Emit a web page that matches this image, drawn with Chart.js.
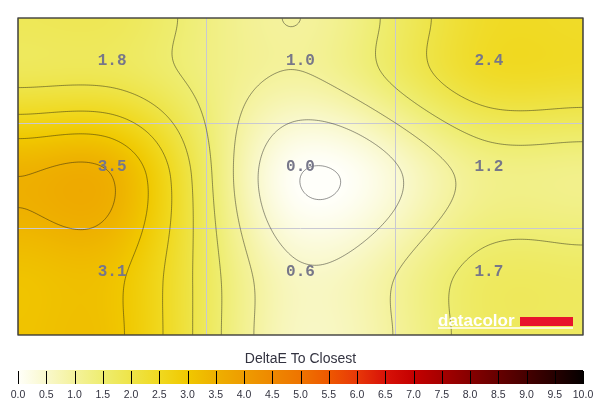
<!DOCTYPE html>
<html><head><meta charset="utf-8">
<script src="https://cdn.jsdelivr.net/npm/chart.js@4/dist/chart.umd.min.js"></script>
<style>html,body{margin:0;padding:0;background:#fff}#wrap{width:600px;height:410px}</style>
</head><body><div id="wrap"><canvas id="c" width="600" height="410"></canvas></div>
<script>
// ---- data ----
const columns = ['Left', 'Center', 'Right'];
const rows = ['Top', 'Middle', 'Bottom'];
const rowTop = [1.8, 1.0, 2.4];
const rowMiddle = [3.5, 0.0, 1.2];
const rowBottom = [3.1, 0.6, 1.7];
const legendTicks = [0.0,0.5,1.0,1.5,2.0,2.5,3.0,3.5,4.0,4.5,5.0,5.5,6.0,6.5,7.0,7.5,8.0,8.5,9.0,9.5,10.0];
const contourLevels = [0.0,0.5,1.0,1.5,2.0,2.5,3.0,3.5,4.0,4.5,5.0,5.5,6.0,6.5,7.0,7.5,8.0,8.5,9.0,9.5,10.0];
const legendTitle = 'DeltaE To Closest';
const brand = 'datacolor';

// ---- colour ramp (style) ----
const rampColors = ['#fffffa','#f9f8cc','#f4f29c','#eeed70','#eee448','#f0d920','#f0c800','#eeb000','#ee9c00','#ee8800','#ee7400','#ee5800','#e83808','#d81208','#c40000','#a60000','#860000','#660000','#460000','#260000','#050000'];
const tension = 0.75;
function hexRgb(h){return [parseInt(h.slice(1,3),16),parseInt(h.slice(3,5),16),parseInt(h.slice(5,7),16)];}
const rampRgb = rampColors.map(hexRgb);
function colorAt(v){
  const t = Math.max(0, Math.min(10, v)) / 0.5;
  const i = Math.min(rampRgb.length - 2, Math.floor(t));
  const f = t - i;
  const a = rampRgb[i], b = rampRgb[i+1];
  return [a[0]+(b[0]-a[0])*f, a[1]+(b[1]-a[1])*f, a[2]+(b[2]-a[2])*f];
}
function hermite(t, p, u){
  const n = t.length;
  let i = 0; while (i < n-2 && u > t[i+1]) i++;
  const m = k => (k === 0 || k === n-1) ? 0 : tension*(p[k+1]-p[k-1])/(t[k+1]-t[k-1]);
  const h = t[i+1]-t[i];
  const s = Math.min(1, Math.max(0, (u - t[i]) / h));
  const s2 = s*s, s3 = s2*s;
  return (2*s3-3*s2+1)*p[i] + (s3-2*s2+s)*h*m(i) + (-2*s3+3*s2)*p[i+1] + (s3-s2)*h*m(i+1);
}

const grid = [rowTop, rowMiddle, rowBottom];
const points = [];
grid.forEach((row, r) => row.forEach((v, c) => points.push({x: c + 0.5, y: r + 0.5, v})));

const heatPlugin = {
  id: 'heat',
  afterDraw(chart){
    const ctx = chart.ctx, a = chart.chartArea;
    const xs = chart.scales.x, ys = chart.scales.y, cb = chart.scales.cb;
    const nC = columns.length, nR = rows.length;
    const kx = [a.left]; for (let c = 0; c < nC; c++) kx.push(xs.getPixelForValue(c + 0.5)); kx.push(a.right);
    const ky = [a.top]; for (let r = 0; r < nR; r++) ky.push(ys.getPixelForValue(r + 0.5)); ky.push(a.bottom);
    const padRow = r => [grid[r][0], ...grid[r], grid[r][nC-1]];
    const pr = [padRow(0)]; for (let r = 0; r < nR; r++) pr.push(padRow(r)); pr.push(padRow(nR-1));
    const L = Math.round(a.left), T = Math.round(a.top);
    const W = Math.round(a.right) - L, H = Math.round(a.bottom) - T;
    const field = new Float32Array(W*H);
    for (let i = 0; i < W; i++){
      const px = L + i + 0.5;
      const colVals = pr.map(row => hermite(kx, row, px));
      for (let j = 0; j < H; j++){
        field[j*W+i] = hermite(ky, colVals, T + j + 0.5);
      }
    }
    // heat image
    const off = document.createElement('canvas'); off.width = W; off.height = H;
    const octx = off.getContext('2d');
    const img = octx.createImageData(W, H);
    for (let k = 0; k < W*H; k++){
      const c = colorAt(field[k]);
      img.data[k*4] = c[0]; img.data[k*4+1] = c[1]; img.data[k*4+2] = c[2]; img.data[k*4+3] = 255;
    }
    octx.putImageData(img, 0, 0);
    ctx.save();
    ctx.drawImage(off, L, T);
    // grid lines
    ctx.strokeStyle = '#c8c8d2'; ctx.lineWidth = 1;
    ctx.beginPath();
    for (let c = 1; c < nC; c++){ const x = Math.round(xs.getPixelForValue(c)) + 0.5; ctx.moveTo(x, a.top); ctx.lineTo(x, a.bottom); }
    for (let r = 1; r < nR; r++){ const y = Math.round(ys.getPixelForValue(r)) - 0.5; ctx.moveTo(a.left, y); ctx.lineTo(a.right, y); }
    ctx.stroke();
    // contours
    const st = 2;
    const Ws = Math.floor((W-1)/st)+1, Hs = Math.floor((H-1)/st)+1;
    const f = (i,j) => field[Math.min(H-1,j*st)*W + Math.min(W-1,i*st)];
    const X = i => L + 0.5 + Math.min(W-1, i*st), Y = j => T + 0.5 + Math.min(H-1, j*st);
    ctx.beginPath();
    for (const lev of contourLevels){
      for (let j = 0; j < Hs-1; j++){
        for (let i = 0; i < Ws-1; i++){
          const v0 = f(i,j), v1 = f(i+1,j), v2 = f(i+1,j+1), v3 = f(i,j+1);
          const b0 = v0 > lev, b1 = v1 > lev, b2 = v2 > lev, b3 = v3 > lev;
          if (b0===b1 && b1===b2 && b2===b3) continue;
          const pts = [];
          const x0 = X(i), x1 = X(i+1), y0 = Y(j), y1 = Y(j+1);
          if (b0 !== b1){ const t=(lev-v0)/(v1-v0); pts.push([x0+(x1-x0)*t, y0]); }
          if (b1 !== b2){ const t=(lev-v1)/(v2-v1); pts.push([x1, y0+(y1-y0)*t]); }
          if (b3 !== b2){ const t=(lev-v3)/(v2-v3); pts.push([x0+(x1-x0)*t, y1]); }
          if (b0 !== b3){ const t=(lev-v0)/(v3-v0); pts.push([x0, y0+(y1-y0)*t]); }
          if (pts.length === 2){ ctx.moveTo(pts[0][0],pts[0][1]); ctx.lineTo(pts[1][0],pts[1][1]); }
          else if (pts.length === 4){
            ctx.moveTo(pts[0][0],pts[0][1]); ctx.lineTo(pts[3][0],pts[3][1]);
            ctx.moveTo(pts[1][0],pts[1][1]); ctx.lineTo(pts[2][0],pts[2][1]);
          }
        }
      }
    }
    ctx.strokeStyle = 'rgba(20,20,20,0.45)'; ctx.lineWidth = 1; ctx.lineJoin = 'round';
    ctx.stroke();
    // border
    ctx.strokeStyle = 'rgba(55,55,55,0.9)'; ctx.lineWidth = 1.6;
    ctx.strokeRect(a.left, a.top, a.right - a.left, a.bottom - a.top);
    // value labels
    ctx.font = 'bold 16px "Liberation Mono", "Courier New", monospace';
    ctx.fillStyle = '#777789'; ctx.textAlign = 'center'; ctx.textBaseline = 'alphabetic';
    const meta = chart.getDatasetMeta(0);
    meta.data.forEach((el, k) => {
      ctx.fillText(points[k].v.toFixed(1), el.x, el.y - 6);
    });
    // brand watermark
    const bx = a.right - 145, by = a.bottom - 9;
    ctx.font = 'bold 17px "Liberation Sans", Arial, sans-serif';
    ctx.textAlign = 'left'; ctx.fillStyle = '#ffffff';
    ctx.fillText(brand, bx, by);
    ctx.fillStyle = '#e8142c'; ctx.fillRect(a.right - 63, a.bottom - 18, 53, 9);
    ctx.strokeStyle = '#ffffff'; ctx.lineWidth = 1.5;
    ctx.beginPath(); ctx.moveTo(bx, by + 2); ctx.lineTo(a.right - 10, by + 2); ctx.stroke();
    // colour bar
    const cx0 = cb.getPixelForValue(legendTicks[0]), cx1 = cb.getPixelForValue(legendTicks[legendTicks.length-1]);
    const barTop = a.bottom + 35, barH = 14;
    const g = ctx.createLinearGradient(cx0, 0, cx1, 0);
    rampColors.forEach((col, k) => g.addColorStop(k/(rampColors.length-1), col));
    ctx.fillStyle = g; ctx.fillRect(cx0, barTop, cx1 - cx0, barH);
    ctx.strokeStyle = '#000'; ctx.lineWidth = 1;
    ctx.beginPath();
    legendTicks.forEach(v => { const x = Math.round(cb.getPixelForValue(v)) + 0.5; ctx.moveTo(x, barTop + 1); ctx.lineTo(x, barTop + barH); });
    ctx.stroke();
    ctx.fillStyle = '#333340'; ctx.textAlign = 'center';
    ctx.font = '10.5px "Liberation Sans", Arial, sans-serif';
    legendTicks.forEach(v => ctx.fillText(v.toFixed(1), cb.getPixelForValue(v), barTop + barH + 14));
    ctx.font = '14px "Liberation Sans", Arial, sans-serif';
    ctx.fillText(legendTitle, (cx0 + cx1) / 2, barTop - 7);
    ctx.restore();
  }
};

new Chart(document.getElementById('c'), {
  type: 'scatter',
  data: { datasets: [{ data: points, pointRadius: 0, pointHoverRadius: 0 }] },
  options: {
    responsive: false, animation: false, devicePixelRatio: 1,
    layout: { padding: { left: 18, top: 18, right: 17, bottom: 75 } },
    plugins: { legend: { display: false }, tooltip: { enabled: false } },
    scales: {
      x: { type: 'linear', min: 0, max: 3, display: false },
      y: { type: 'linear', min: 0, max: 3, reverse: true, display: false },
      cb: { type: 'linear', axis: 'x', position: 'bottom', min: 0, max: 10, display: false }
    }
  },
  plugins: [heatPlugin]
});
</script>
</body></html>
